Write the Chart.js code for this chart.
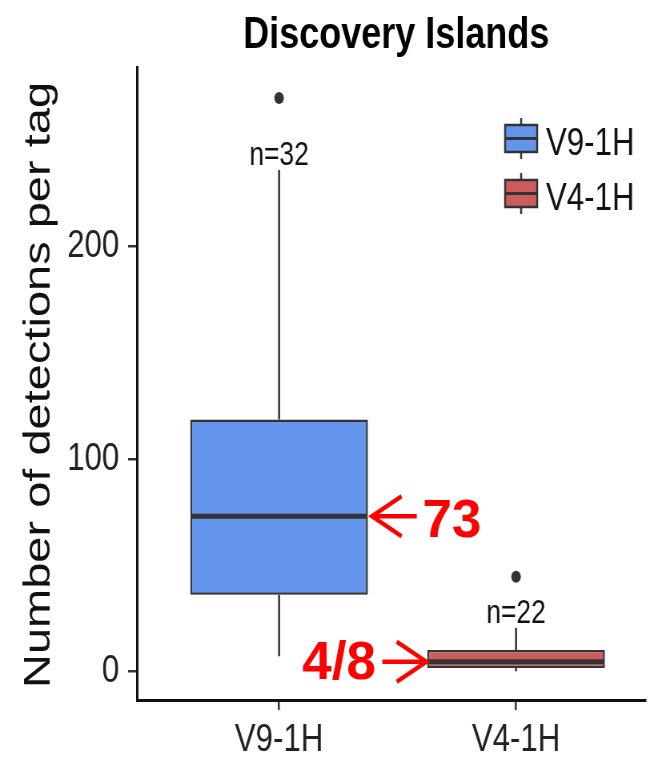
<!DOCTYPE html>
<html>
<head>
<meta charset="utf-8">
<script src="https://cdn.jsdelivr.net/npm/chart.js@4.4.1/dist/chart.umd.min.js"></script>
<style>
  body { margin: 0; background: #fff; overflow: hidden; }
  canvas { display: block; }
</style>
</head>
<body>
<!-- the original figure is squeezed horizontally, so the canvas is drawn wider and shown at 650px -->
<canvas id="chart" width="812" height="759" style="width:650px;height:759px"></canvas>
<script>
// box plot values
const groups = ['V9-1H', 'V4-1H'];
const whiskerLow = [7, 0];
const q1 = [36, 1.5];
const median = [73, 4.5];
const q3 = [118.5, 10];
const whiskerHigh = [236, 20.5];
const outliers = [270, 44.5];
const counts = ['n=32', 'n=22'];
const callouts = ['73', '4/8'];
const boxColors = ['#6495ED', '#CD5C5C'];
const yTicks = [0, 100, 200];

const font = "'Liberation Sans', Arial, sans-serif";
const dark = '#333';
const squeeze = 0.8;

// horizontal arrow from tail to head
function arrow(ctx, tailX, headX, y) {
  const dir = headX < tailX ? 1 : -1;
  ctx.beginPath();
  ctx.moveTo(tailX, y);
  ctx.lineTo(headX, y);
  ctx.moveTo(headX + dir * 37, y - 20);
  ctx.lineTo(headX, y);
  ctx.lineTo(headX + dir * 37, y + 20);
  ctx.stroke();
}

// text that is not squeezed (the red notes were added on top of the figure)
function wideText(ctx, text, x, y, align) {
  ctx.save();
  ctx.translate(x, y);
  ctx.scale(1 / squeeze, 1);
  ctx.textAlign = align;
  ctx.fillText(text, 0, 0);
  ctx.restore();
}

const boxPlotExtras = {
  id: 'boxPlotExtras',
  beforeDatasetsDraw(chart) {
    const { ctx, scales: { x, y } } = chart;
    ctx.save();
    ctx.strokeStyle = dark;
    ctx.lineWidth = 2.5;
    groups.forEach((g, i) => {
      const cx = x.getPixelForValue(i + 1);
      ctx.beginPath();
      ctx.moveTo(cx, y.getPixelForValue(q3[i]));
      ctx.lineTo(cx, y.getPixelForValue(whiskerHigh[i]));
      ctx.moveTo(cx, y.getPixelForValue(q1[i]));
      ctx.lineTo(cx, y.getPixelForValue(whiskerLow[i]));
      ctx.stroke();
    });
    ctx.restore();
  },
  afterDatasetsDraw(chart) {
    const { ctx, chartArea, scales: { x, y } } = chart;
    const bars = chart.getDatasetMeta(0).data;
    ctx.save();
    ctx.textBaseline = 'alphabetic';

    groups.forEach((g, i) => {
      const cx = x.getPixelForValue(i + 1);
      const w = bars[i].width;
      const my = y.getPixelForValue(median[i]);

      // median line
      ctx.strokeStyle = dark;
      ctx.lineWidth = 5;
      ctx.beginPath();
      ctx.moveTo(cx - w / 2 + 1, my);
      ctx.lineTo(cx + w / 2 - 1, my);
      ctx.stroke();

      // n= label above the upper whisker
      ctx.fillStyle = '#111';
      ctx.font = '33px ' + font;
      ctx.textAlign = 'center';
      ctx.fillText(counts[i], cx, y.getPixelForValue(whiskerHigh[i]) - 5);

      // red notes
      ctx.strokeStyle = '#ff0000';
      ctx.fillStyle = '#ff0000';
      ctx.lineWidth = 4.5;
      ctx.font = 'bold 53px ' + font;
      if (i === 0) {
        const head = cx + w / 2 + 5;
        arrow(ctx, head + 56, head, my);
        wideText(ctx, callouts[i], head + 63, my + 21, 'left');
      } else {
        const head = cx - w / 2 - 1;
        arrow(ctx, head - 55, head, my);
        wideText(ctx, callouts[i], head - 63, my + 17, 'right');
      }
    });

    // legend
    groups.forEach((g, i) => {
      const lx = 631, ly = 125 + i * 55, bw = 40, bh = 27;
      ctx.strokeStyle = dark;
      ctx.lineWidth = 2.5;
      ctx.beginPath();
      ctx.moveTo(lx + bw / 2, ly - 7);
      ctx.lineTo(lx + bw / 2, ly + bh + 7);
      ctx.stroke();
      ctx.fillStyle = boxColors[i];
      ctx.fillRect(lx, ly, bw, bh);
      ctx.strokeRect(lx, ly, bw, bh);
      ctx.lineWidth = 3;
      ctx.beginPath();
      ctx.moveTo(lx, ly + bh / 2);
      ctx.lineTo(lx + bw, ly + bh / 2);
      ctx.stroke();
      ctx.fillStyle = '#111';
      ctx.font = '39px ' + font;
      ctx.textAlign = 'left';
      ctx.fillText(g, lx + 51, ly + 30);
    });

    // title
    ctx.fillStyle = '#000';
    ctx.font = 'bold 45px ' + font;
    ctx.textAlign = 'center';
    ctx.fillText('Discovery Islands', chartArea.left + 324, 48);

    // y axis title
    ctx.save();
    ctx.translate(62, 385);
    ctx.rotate(-Math.PI / 2);
    ctx.font = '47px ' + font;
    ctx.fillStyle = '#111';
    ctx.textAlign = 'center';
    ctx.fillText('Number of detections per tag', 0, 0);
    ctx.restore();

    ctx.restore();
  }
};

const ctx = document.getElementById('chart').getContext('2d');
new Chart(ctx, {
  type: 'bar',
  data: {
    datasets: [
      {
        data: groups.map((g, i) => ({ x: i + 1, y: [q1[i], q3[i]] })),
        backgroundColor: boxColors,
        borderColor: dark,
        borderWidth: 2.5,
        borderSkipped: false,
        barPercentage: 0.75,
        categoryPercentage: 1
      },
      {
        type: 'scatter',
        data: outliers.map((v, i) => ({ x: i + 1, y: v })),
        pointRadius: 6,
        pointBackgroundColor: dark,
        pointBorderWidth: 0
      }
    ]
  },
  options: {
    responsive: false,
    animation: false,
    devicePixelRatio: 1,
    layout: { padding: { top: 67, right: 0, left: 0, bottom: 0 } },
    plugins: { legend: { display: false }, tooltip: { enabled: false } },
    scales: {
      x: {
        type: 'linear',
        min: 0.4,
        max: 2.545,
        offset: false,
        afterBuildTicks: s => { s.ticks = groups.map((g, i) => ({ value: i + 1 })); },
        afterFit: s => { s.height = 59; },
        grid: { offset: false, drawOnChartArea: false, drawTicks: true, tickLength: 10, color: dark, lineWidth: 2.5 },
        border: { display: true, color: '#111', width: 3 },
        ticks: {
          callback: v => groups[v - 1],
          font: { family: font, size: 39 },
          color: '#222',
          padding: 7,
          maxRotation: 0
        }
      },
      y: {
        min: -13.55,
        max: 284.55,
        afterBuildTicks: s => { s.ticks = yTicks.map(v => ({ value: v })); },
        afterFit: s => { s.width = 171; },
        grid: { drawOnChartArea: false, drawTicks: true, tickLength: 11, color: dark, lineWidth: 2.5 },
        border: { display: true, color: '#111', width: 3 },
        ticks: {
          font: { family: font, size: 39 },
          color: '#222',
          padding: 11
        }
      }
    }
  },
  plugins: [boxPlotExtras]
});
</script>
</body>
</html>
